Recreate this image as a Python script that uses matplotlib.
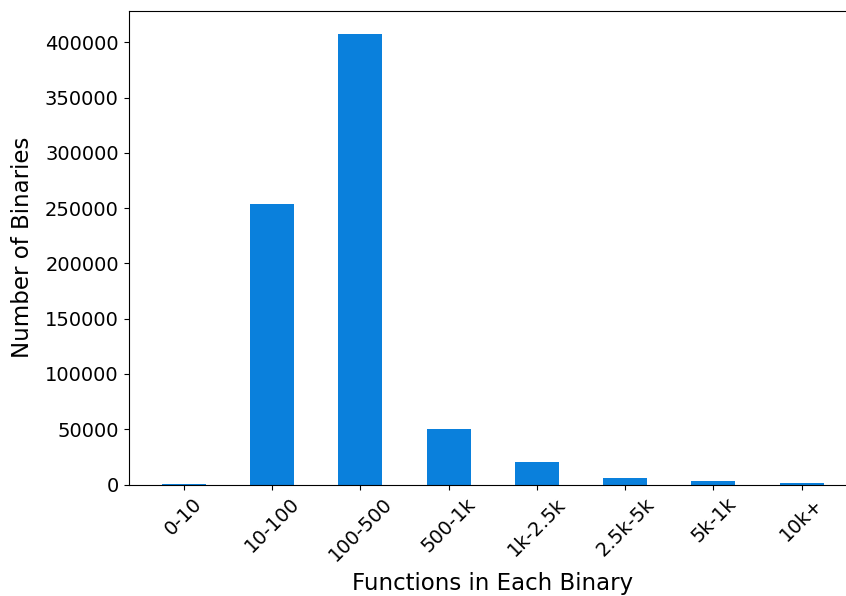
import matplotlib
matplotlib.use("Agg")
import matplotlib.pyplot as plt

# faixas de funções por binário e contagem de binários
categorias = ["0-10", "10-100", "100-500", "500-1k", "1k-2.5k", "2.5k-5k", "5k-1k", "10k+"]
binarios = [300, 253700, 407200, 49900, 20600, 6300, 3600, 1800]

fig = plt.figure(figsize=(8.46, 5.96), dpi=100)
# eixo posicionado para que a borda direita fique fora da figura, como no original
ax = fig.add_axes([128.5 / 846, 111.5 / 596, (857 - 128.5) / 846, (484.5 - 11) / 596])

pos = range(len(categorias))
ax.bar(pos, binarios, width=0.5, color="#0a80dc")
ax.set_xlim(-0.627, len(categorias) - 1 + 0.627)
ax.set_ylim(0, 407200 * 1.052)
ax.spines["right"].set_visible(False)

ax.set_xticks(list(pos))
ax.set_xticklabels(categorias, rotation=45, fontsize=14)
ax.tick_params(axis="y", labelsize=14)
ax.set_xlabel("Functions in Each Binary", fontsize=16.5, labelpad=5)
ax.set_ylabel("Number of Binaries", fontsize=16.5, labelpad=8)

fig.savefig("out.png", dpi=100)
